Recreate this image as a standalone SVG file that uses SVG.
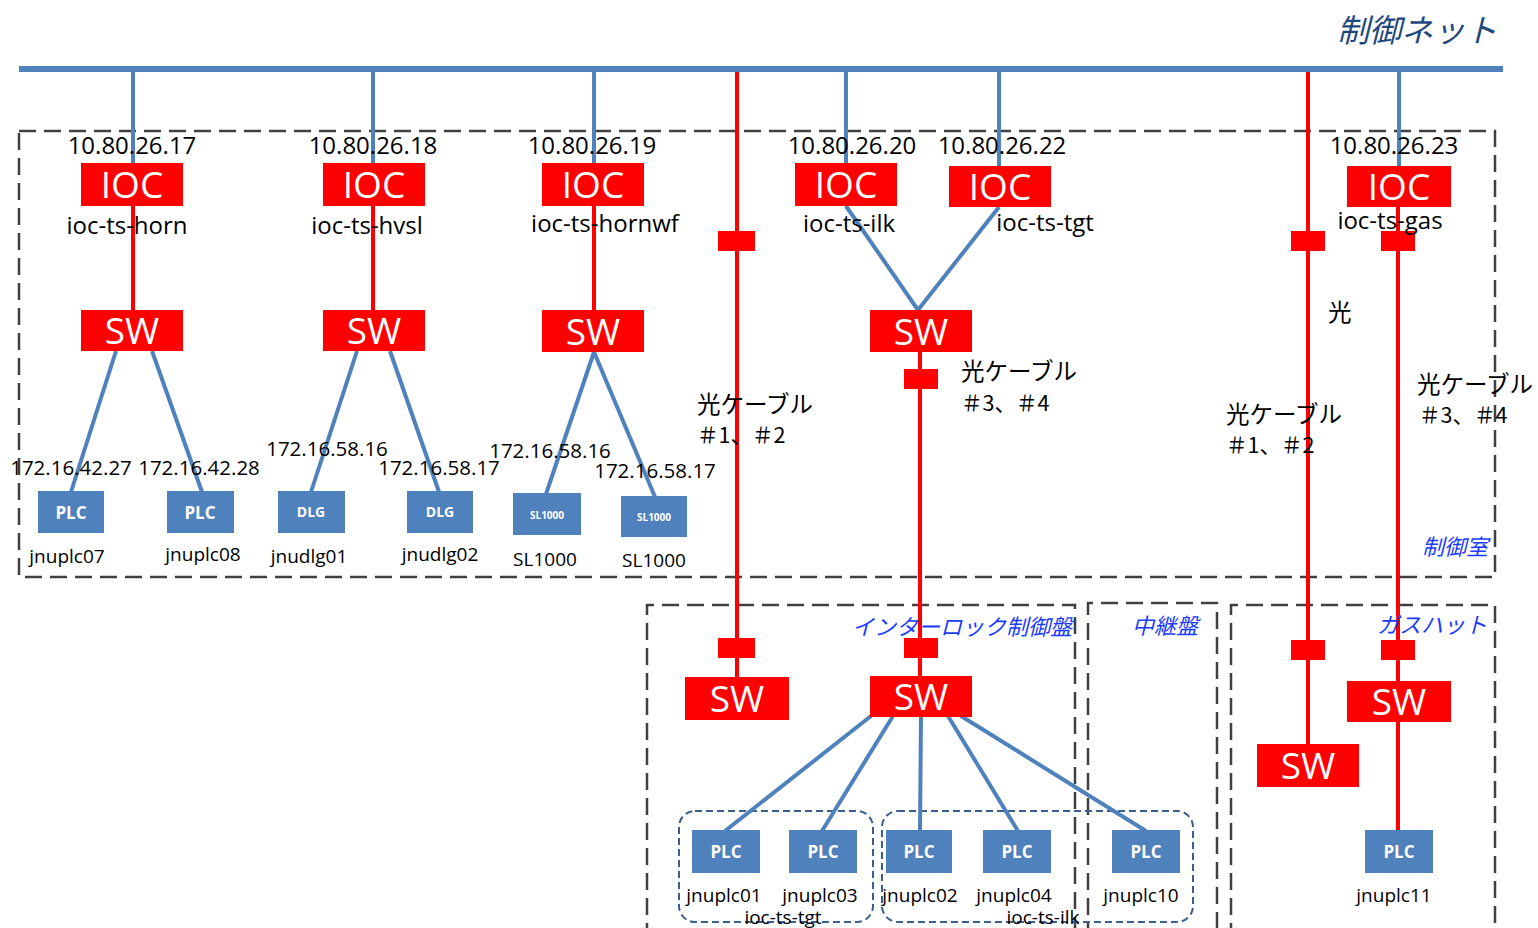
<svg xmlns="http://www.w3.org/2000/svg" width="1538" height="928" viewBox="0 0 1538 928">
  <style>
    .bg { fill: #ffffff; }
    .ioc, .sw, .conn { fill: #ff0000; }
    .dev { fill: #4f81bd; }
    .red { stroke: #ff0000; stroke-width: 4; fill: none; }
    .blue { stroke: #4f81bd; stroke-width: 4; fill: none; }
    .bus { stroke: #4f81bd; stroke-width: 6; fill: none; }
    .area { stroke: #404040; stroke-width: 2.5; stroke-dasharray: 17 8; fill: none; }
    .grp { stroke: #3a5f8c; stroke-width: 2; stroke-dasharray: 7 4; fill: none; }
    .big { font-family: "Open Sans", "Liberation Sans", sans-serif; font-size: 37px; fill: #ffffff; text-anchor: middle; }
    .tag { font-family: "Open Sans", "Liberation Sans", sans-serif; font-weight: bold; fill: #ffffff; text-anchor: middle; }
    .ip { font-family: "Open Sans", "Liberation Sans", sans-serif; font-size: 24px; fill: #000000; text-anchor: middle; }
    .ip2 { font-family: "Open Sans", "Liberation Sans", sans-serif; font-size: 20.5px; fill: #000000; text-anchor: middle; }
    .nm { font-family: "Open Sans", "Liberation Sans", sans-serif; font-size: 24px; fill: #000000; text-anchor: middle; }
    .dn { font-family: "Open Sans", "Liberation Sans", sans-serif; font-size: 19px; fill: #000000; text-anchor: middle; }
    .jp { font-family: "Noto Sans CJK JP", "Noto Sans", sans-serif; font-size: 23.5px; fill: #000000; }
    .num { font-family: "Noto Sans CJK JP", "Noto Sans", sans-serif; font-size: 21.5px; fill: #000000; }
    .room { font-family: "Noto Sans CJK JP", "Noto Sans", sans-serif; font-size: 22px; font-style: italic; fill: #1a3cff; }
    .title { font-family: "Noto Sans CJK JP", "Noto Sans", sans-serif; font-size: 32px; font-style: italic; fill: #1f497d; }
  </style>

  <rect class="bg" x="0" y="0" width="1538" height="928"/>

  <!-- enclosures -->
  <g id="areas">
    <rect class="area" x="19" y="131" width="1476" height="446"/>
    <path class="area" d="M647 940 V605 H1075 V940"/>
    <path class="area" d="M1088 940 V603 H1217 V940"/>
    <path class="area" d="M1231 940 V605 H1495 V940"/>
    <rect class="grp" x="679" y="811" width="194" height="111" rx="16"/>
    <rect class="grp" x="882" y="811" width="311" height="111" rx="16"/>
  </g>

  <!-- cabling -->
  <g id="connectors">
    <line class="bus" x1="19" y1="69" x2="1503" y2="69"/>
    <!-- network drops -->
    <line class="blue" x1="133" y1="72" x2="133" y2="163"/>
    <line class="blue" x1="373" y1="72" x2="373" y2="163"/>
    <line class="blue" x1="594" y1="72" x2="594" y2="163"/>
    <line class="blue" x1="846" y1="72" x2="846" y2="163"/>
    <line class="blue" x1="999" y1="72" x2="999" y2="166"/>
    <line class="blue" x1="1399" y1="72" x2="1399" y2="166"/>
    <!-- IOC to switch -->
    <line class="red" x1="133" y1="206" x2="133" y2="310"/>
    <line class="red" x1="373" y1="206" x2="373" y2="310"/>
    <line class="red" x1="594" y1="206" x2="594" y2="310"/>
    <line class="blue" x1="846" y1="206" x2="918" y2="310"/>
    <line class="blue" x1="999" y1="207" x2="918" y2="310"/>
    <!-- switch to devices -->
    <line class="blue" x1="116" y1="351" x2="71" y2="492"/>
    <line class="blue" x1="152" y1="351" x2="202" y2="492"/>
    <line class="blue" x1="357" y1="351" x2="311" y2="492"/>
    <line class="blue" x1="390" y1="351" x2="439" y2="492"/>
    <line class="blue" x1="594" y1="352" x2="546" y2="494"/>
    <line class="blue" x1="594" y1="352" x2="655" y2="497"/>
    <!-- optical runs -->
    <line class="red" x1="737" y1="72" x2="737" y2="677"/>
    <line class="red" x1="920" y1="352" x2="920" y2="676"/>
    <line class="red" x1="1308" y1="72" x2="1308" y2="744"/>
    <line class="red" x1="1398" y1="207" x2="1398" y2="830"/>
    <!-- interlock switch fan-out -->
    <line class="blue" x1="871" y1="716" x2="725" y2="831"/>
    <line class="blue" x1="893" y1="716" x2="822" y2="831"/>
    <line class="blue" x1="921" y1="716" x2="920" y2="831"/>
    <line class="blue" x1="948" y1="716" x2="1018" y2="831"/>
    <line class="blue" x1="961" y1="716" x2="1146" y2="831"/>
    <!-- media converters -->
    <rect class="conn" x="718" y="231" width="37" height="20"/>
    <rect class="conn" x="718" y="638" width="37" height="20"/>
    <rect class="conn" x="904" y="369" width="34" height="20"/>
    <rect class="conn" x="904" y="638" width="34" height="20"/>
    <rect class="conn" x="1291" y="231" width="34" height="20"/>
    <rect class="conn" x="1291" y="640" width="34" height="20"/>
    <rect class="conn" x="1381" y="231" width="34" height="20"/>
    <rect class="conn" x="1381" y="640" width="34" height="20"/>
  </g>

  <!-- IOCs -->
  <g id="ioc-horn">
    <rect class="ioc" x="81" y="163" width="102" height="43"/>
    <text class="big" x="132" y="198">IOC</text>
    <text class="ip" x="132" y="154">10.80.26.17</text>
    <text class="nm" x="127" y="234">ioc-ts-horn</text>
  </g>
  <g id="ioc-hvsl">
    <rect class="ioc" x="323" y="163" width="102" height="43"/>
    <text class="big" x="374" y="198">IOC</text>
    <text class="ip" x="373" y="154">10.80.26.18</text>
    <text class="nm" x="367" y="234">ioc-ts-hvsl</text>
  </g>
  <g id="ioc-hornwf">
    <rect class="ioc" x="542" y="163" width="102" height="43"/>
    <text class="big" x="593" y="198">IOC</text>
    <text class="ip" x="592" y="154">10.80.26.19</text>
    <text class="nm" x="605" y="232">ioc-ts-hornwf</text>
  </g>
  <g id="ioc-ilk">
    <rect class="ioc" x="795" y="163" width="102" height="43"/>
    <text class="big" x="846" y="198">IOC</text>
    <text class="ip" x="852" y="154">10.80.26.20</text>
    <text class="nm" x="849" y="232">ioc-ts-ilk</text>
  </g>
  <g id="ioc-tgt">
    <rect class="ioc" x="949" y="166" width="102" height="41"/>
    <text class="big" x="1000" y="200">IOC</text>
    <text class="ip" x="1002" y="154">10.80.26.22</text>
    <text class="nm" x="1045" y="231">ioc-ts-tgt</text>
  </g>
  <g id="ioc-gas">
    <rect class="ioc" x="1347" y="166" width="104" height="41"/>
    <text class="big" x="1399" y="200">IOC</text>
    <text class="ip" x="1394" y="154">10.80.26.23</text>
    <text class="nm" x="1390" y="229">ioc-ts-gas</text>
  </g>

  <!-- switches -->
  <g id="sw-horn">
    <rect class="sw" x="81" y="310" width="102" height="41"/>
    <text class="big" x="132" y="344">SW</text>
  </g>
  <g id="sw-hvsl">
    <rect class="sw" x="323" y="310" width="102" height="41"/>
    <text class="big" x="374" y="344">SW</text>
  </g>
  <g id="sw-hornwf">
    <rect class="sw" x="542" y="310" width="102" height="42"/>
    <text class="big" x="593" y="345">SW</text>
  </g>
  <g id="sw-ioc-pair">
    <rect class="sw" x="870" y="310" width="102" height="42"/>
    <text class="big" x="921" y="345">SW</text>
  </g>
  <g id="sw-interlock-a">
    <rect class="sw" x="685" y="677" width="104" height="43"/>
    <text class="big" x="737" y="712">SW</text>
  </g>
  <g id="sw-interlock-b">
    <rect class="sw" x="870" y="676" width="102" height="41"/>
    <text class="big" x="921" y="710">SW</text>
  </g>
  <g id="sw-gas">
    <rect class="sw" x="1347" y="681" width="104" height="41"/>
    <text class="big" x="1399" y="715">SW</text>
  </g>
  <g id="sw-relay">
    <rect class="sw" x="1257" y="744" width="102" height="43"/>
    <text class="big" x="1308" y="779">SW</text>
  </g>

  <!-- control room devices -->
  <g id="jnuplc07">
    <rect class="dev" x="38" y="491" width="66" height="42"/>
    <text class="tag" x="71" y="519" font-size="17">PLC</text>
    <text class="ip2" x="71" y="475">172.16.42.27</text>
    <text class="dn" x="67" y="563">jnuplc07</text>
  </g>
  <g id="jnuplc08">
    <rect class="dev" x="167" y="491" width="67" height="42"/>
    <text class="tag" x="200" y="519" font-size="17">PLC</text>
    <text class="ip2" x="199" y="475">172.16.42.28</text>
    <text class="dn" x="203" y="561">jnuplc08</text>
  </g>
  <g id="jnudlg01">
    <rect class="dev" x="278" y="491" width="67" height="42"/>
    <text class="tag" x="311" y="517" font-size="14">DLG</text>
    <text class="ip2" x="327" y="456">172.16.58.16</text>
    <text class="dn" x="309" y="563">jnudlg01</text>
  </g>
  <g id="jnudlg02">
    <rect class="dev" x="407" y="491" width="66" height="42"/>
    <text class="tag" x="440" y="517" font-size="14">DLG</text>
    <text class="ip2" x="439" y="475">172.16.58.17</text>
    <text class="dn" x="440" y="561">jnudlg02</text>
  </g>
  <g id="sl1000-a">
    <rect class="dev" x="513" y="493" width="68" height="42"/>
    <text class="tag" x="547" y="519" font-size="10">SL1000</text>
    <text class="ip2" x="550" y="458">172.16.58.16</text>
    <text class="dn" x="545" y="566">SL1000</text>
  </g>
  <g id="sl1000-b">
    <rect class="dev" x="621" y="496" width="66" height="41"/>
    <text class="tag" x="654" y="521" font-size="10">SL1000</text>
    <text class="ip2" x="655" y="478">172.16.58.17</text>
    <text class="dn" x="654" y="567">SL1000</text>
  </g>

  <!-- field PLCs -->
  <g id="jnuplc01">
    <rect class="dev" x="692" y="830" width="68" height="43"/>
    <text class="tag" x="726" y="858" font-size="17">PLC</text>
    <text class="dn" x="724" y="902">jnuplc01</text>
  </g>
  <g id="jnuplc03">
    <rect class="dev" x="789" y="830" width="68" height="43"/>
    <text class="tag" x="823" y="858" font-size="17">PLC</text>
    <text class="dn" x="820" y="902">jnuplc03</text>
  </g>
  <g id="jnuplc02">
    <rect class="dev" x="886" y="830" width="66" height="43"/>
    <text class="tag" x="919" y="858" font-size="17">PLC</text>
    <text class="dn" x="920" y="902">jnuplc02</text>
  </g>
  <g id="jnuplc04">
    <rect class="dev" x="983" y="830" width="68" height="43"/>
    <text class="tag" x="1017" y="858" font-size="17">PLC</text>
    <text class="dn" x="1014" y="902">jnuplc04</text>
  </g>
  <g id="jnuplc10">
    <rect class="dev" x="1112" y="830" width="68" height="43"/>
    <text class="tag" x="1146" y="858" font-size="17">PLC</text>
    <text class="dn" x="1141" y="902">jnuplc10</text>
  </g>
  <g id="jnuplc11">
    <rect class="dev" x="1365" y="830" width="68" height="43"/>
    <text class="tag" x="1399" y="858" font-size="17">PLC</text>
    <text class="dn" x="1394" y="902">jnuplc11</text>
  </g>
  <g id="group-labels">
    <text class="dn" x="783" y="924">ioc-ts-tgt</text>
    <text class="dn" x="1043" y="924">ioc-ts-ilk</text>
  </g>

  <!-- cable and area labels -->
  <g id="labels">
    <text class="title" x="1337" y="42">制御ネット</text>
    <text class="jp" x="697" y="413">光ケーブル</text>
    <text class="num" x="697" y="443">＃1、＃2</text>
    <text class="jp" x="961" y="380">光ケーブル</text>
    <text class="num" x="961" y="411">＃3、＃4</text>
    <text class="jp" x="1328" y="321">光</text>
    <text class="jp" x="1226" y="423">光ケーブル</text>
    <text class="num" x="1226" y="453">＃1、＃2</text>
    <text class="jp" x="1417" y="393">光ケーブル</text>
    <text class="num" x="1419" y="423">＃3、＃4</text>
    <text class="room" x="1422" y="555">制御室</text>
    <text class="room" x="852" y="635">インターロック制御盤</text>
    <text class="room" x="1132" y="634">中継盤</text>
    <text class="room" x="1377" y="633">ガスハット</text>
  </g>
</svg>
